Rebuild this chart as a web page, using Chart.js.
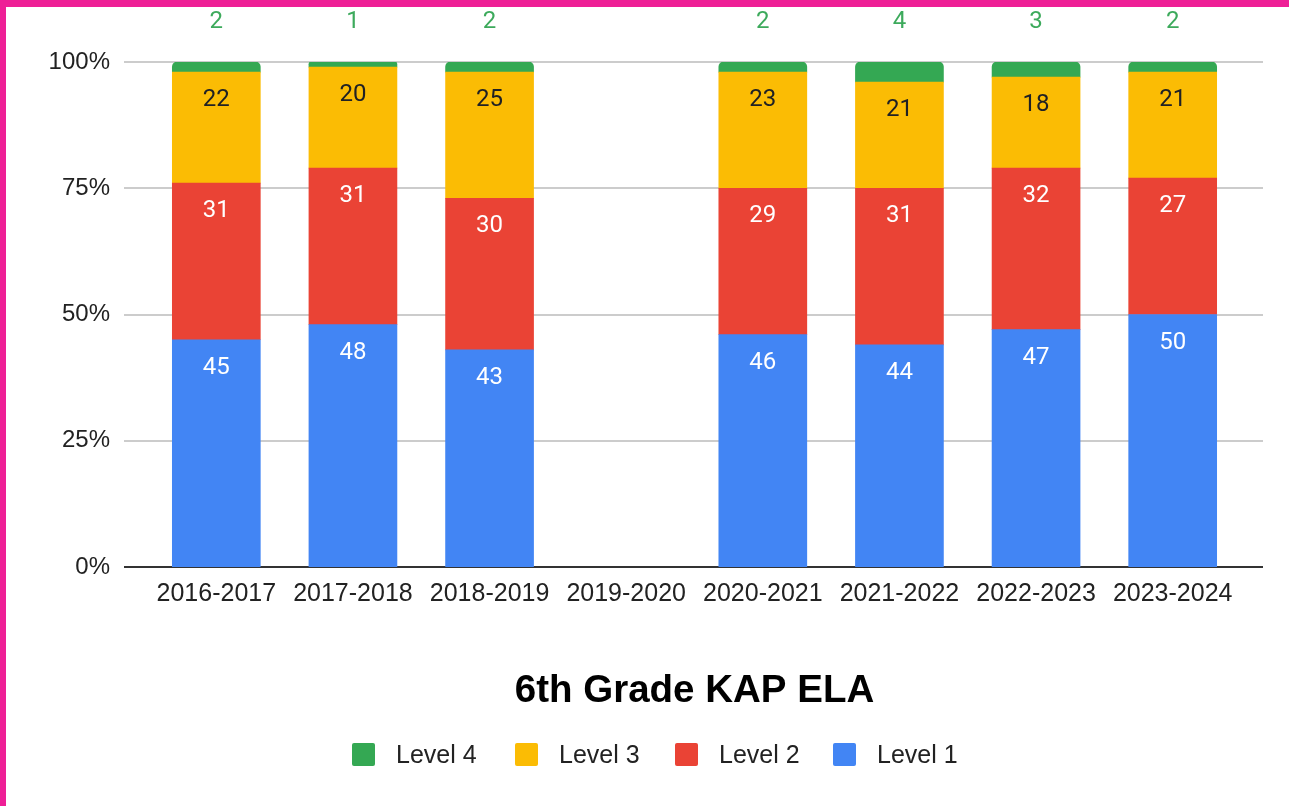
<!DOCTYPE html>
<html>
<head>
<meta charset="utf-8">
<script src="https://cdn.jsdelivr.net/npm/chart.js@4.4.1/dist/chart.umd.min.js"></script>
<style>
  html, body { margin: 0; padding: 0; background: #fff; }
  body { width: 1289px; height: 806px; overflow: hidden; position: relative; }
  #frame { position: absolute; left: 0; top: 0; width: 1283px; height: 799px;
           border-top: 7px solid #EE1F96; border-left: 6px solid #EE1F96; background: #fff; }
  canvas { display: block; }
</style>
</head>
<body>
<div id="frame"><canvas id="c" width="1283" height="799"></canvas></div>
<script>
const categories = ['2016-2017','2017-2018','2018-2019','2019-2020','2020-2021','2021-2022','2022-2023','2023-2024'];
const level1 = [45, 48, 43, null, 46, 44, 47, 50];
const level2 = [31, 31, 30, null, 29, 31, 32, 27];
const level3 = [22, 20, 25, null, 23, 21, 18, 21];
const level4 = [2, 1, 2, null, 2, 4, 3, 2];
const yTicks = [0, 25, 50, 75, 100];
const chartTitle = '6th Grade KAP ELA';

const COLORS = { l1: '#4285F4', l2: '#EA4335', l3: '#FBBC04', l4: '#34A853' };
const LABEL_COLORS = ['#ffffff', '#ffffff', '#202124', '#3DAA5C'];

const overlay = {
  id: 'overlay',
  beforeDatasetsDraw(chart) {
    const ctx = chart.ctx, y = chart.scales.y, a = chart.chartArea;
    ctx.save();
    ctx.lineWidth = 2;
    yTicks.forEach(v => {
      const py = Math.round(y.getPixelForValue(v));
      ctx.strokeStyle = v === 0 ? '#333333' : '#cccccc';
      ctx.beginPath();
      ctx.moveTo(a.left - 24, py);
      ctx.lineTo(a.right + 22, py);
      ctx.stroke();
    });
    ctx.restore();
  },
  afterDatasetsDraw(chart) {
    const ctx = chart.ctx;
    ctx.save();
    ctx.textAlign = 'center';
    ctx.textBaseline = 'middle';
    ctx.font = '24px Roboto';
    chart.data.datasets.forEach((ds, di) => {
      const meta = chart.getDatasetMeta(di);
      meta.data.forEach((bar, i) => {
        const v = ds.data[i];
        if (v === null || v === undefined) return;
        ctx.fillStyle = LABEL_COLORS[di];
        const ly = di === 3 ? 15 : bar.y + 28;
        ctx.fillText(String(v), bar.x, ly);
      });
    });
    ctx.restore();
  },
  afterDraw(chart) {
    const ctx = chart.ctx, a = chart.chartArea;
    ctx.save();
    ctx.fillStyle = '#000';
    ctx.textAlign = 'center';
    ctx.textBaseline = 'middle';
    ctx.font = 'bold 38.5px "Liberation Sans", Arial, sans-serif';
    ctx.fillText(chartTitle, (a.left + a.right) / 2, 684);
    // legend
    const items = [3, 2, 1, 0].map(di => chart.data.datasets[di]);
    const xs = [346, 509, 669, 827];
    ctx.font = '25px "Liberation Sans", Arial, sans-serif';
    ctx.textAlign = 'left';
    items.forEach((ds, k) => {
      ctx.fillStyle = ds.backgroundColor;
      ctx.beginPath();
      ctx.roundRect(xs[k], 736, 23, 23, 2);
      ctx.fill();
      ctx.fillStyle = '#222222';
      ctx.fillText(ds.label, xs[k] + 44, 749);
    });
    ctx.restore();
  }
};

const tickFont = { family: '"Liberation Sans", Arial, sans-serif', size: 25 };

new Chart(document.getElementById('c'), {
  type: 'bar',
  data: {
    labels: categories,
    datasets: [
      { label: 'Level 1', data: level1, backgroundColor: COLORS.l1 },
      { label: 'Level 2', data: level2, backgroundColor: COLORS.l2 },
      { label: 'Level 3', data: level3, backgroundColor: COLORS.l3 },
      { label: 'Level 4', data: level4, backgroundColor: COLORS.l4,
        borderRadius: { topLeft: 5, topRight: 5, bottomLeft: 0, bottomRight: 0 }, borderSkipped: false }
    ]
  },
  options: {
    responsive: false,
    animation: false,
    layout: { padding: { top: 55, right: 48, left: 0, bottom: 0 } },
    datasets: { bar: { barThickness: 88 } },
    plugins: { legend: { display: false }, title: { display: false }, tooltip: { enabled: false } },
    scales: {
      x: {
        stacked: true,
        grid: { display: false, drawTicks: false },
        border: { display: false },
        ticks: { color: '#222222', font: tickFont, padding: 12, maxRotation: 0, autoSkip: false },
        afterFit(s) { s.height = 239; }
      },
      y: {
        stacked: true,
        min: 0, max: 100,
        grid: { display: false, drawTicks: false },
        border: { display: false },
        ticks: { stepSize: 25, color: '#222222', font: { family: '"Liberation Sans", Arial, sans-serif', size: 24 }, padding: 38,
                 callback: v => v + '%' },
        afterFit(s) { s.width = 142; }
      }
    }
  },
  plugins: [overlay]
});
</script>
</body>
</html>
